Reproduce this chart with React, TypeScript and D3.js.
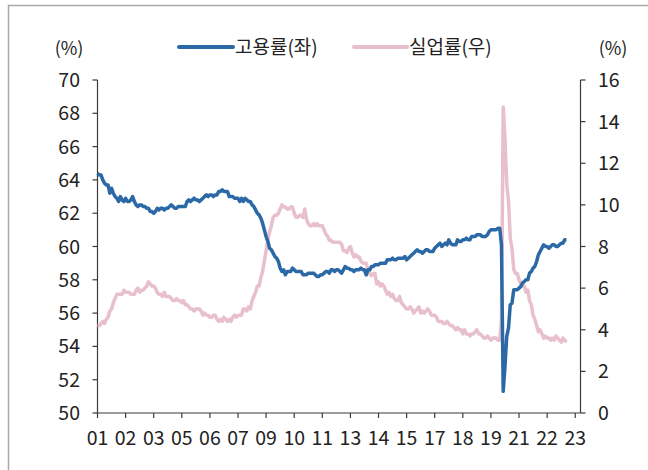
import React from "react";
import * as d3 from "d3";

const yearLabels = ["01","02","03","05","06","07","09","10","11","13","14","15","17","18","19","21","22","23"];
const leftTicks = [50,52,54,56,58,60,62,64,66,68,70];
const rightTicks = [0,2,4,6,8,10,12,14,16];
const seriesNames = ["고용률(좌)", "실업률(우)"];

// Employment rate (monthly, 2001.01 - 2023.04)
const employment = [
  64.4,64.3,64.3,64.0,63.8,63.7,63.7,63.2,63.5,63.2,63.0,62.9,
  62.7,63.0,62.8,62.7,62.9,62.7,62.7,62.8,63.0,62.7,62.5,62.4,
  62.5,62.5,62.4,62.4,62.3,62.3,62.1,62.1,62.0,62.1,62.3,62.2,
  62.3,62.3,62.2,62.3,62.3,62.4,62.5,62.4,62.3,62.3,62.4,62.4,
  62.4,62.4,62.4,62.7,62.8,62.7,62.8,62.9,62.8,62.8,62.7,62.8,
  62.9,63.0,63.1,63.0,63.1,63.1,63.0,63.1,63.1,63.3,63.3,63.4,
  63.3,63.3,63.3,63.0,63.0,63.0,62.9,62.9,62.9,62.7,62.9,62.7,
  62.9,62.8,62.7,62.7,62.5,62.4,62.2,62.0,61.9,61.7,61.4,61.0,
  60.6,60.3,59.9,59.8,59.6,59.4,59.3,59.1,58.7,58.5,58.6,58.3,
  58.5,58.5,58.5,58.7,58.6,58.5,58.5,58.5,58.5,58.3,58.3,58.3,
  58.4,58.4,58.4,58.4,58.3,58.2,58.2,58.3,58.3,58.4,58.5,58.5,
  58.4,58.6,58.6,58.5,58.6,58.6,58.5,58.4,58.6,58.8,58.7,58.7,
  58.6,58.6,58.5,58.6,58.6,58.6,58.7,58.6,58.6,58.3,58.6,58.6,
  58.8,58.8,58.9,58.9,58.9,59.0,59.0,59.0,59.0,59.2,59.2,59.2,
  59.3,59.2,59.2,59.3,59.3,59.3,59.3,59.4,59.2,59.3,59.4,59.5,
  59.6,59.7,59.8,59.7,59.7,59.6,59.7,59.8,59.8,59.7,59.7,59.7,
  59.9,60.0,60.1,60.2,60.0,60.1,60.2,60.1,60.4,60.2,60.1,60.1,
  60.1,60.4,60.3,60.3,60.4,60.4,60.5,60.4,60.4,60.6,60.6,60.6,
  60.7,60.7,60.7,60.6,60.6,60.6,60.7,60.9,61.0,61.0,61.0,61.0,
  61.1,61.1,60.1,51.3,52.8,54.6,55.1,56.5,56.6,57.4,57.4,57.4,
  57.5,57.6,57.8,57.9,58.0,58.0,58.4,58.5,58.7,58.8,59.1,59.5,
  59.7,59.9,60.1,60.0,60.0,59.9,60.0,60.1,60.1,60.0,60.0,60.1,
  60.2,60.2,60.4,60.4
];

// Unemployment rate (monthly, 2001.01 - 2023.04)
const unemployment = [
  4.2,4.2,4.3,4.4,4.3,4.5,4.6,4.9,5.0,5.3,5.5,5.7,
  5.7,5.7,5.7,5.9,5.8,5.8,5.8,5.7,5.7,5.7,5.9,6.0,
  5.8,5.9,5.9,6.0,6.1,6.3,6.2,6.1,6.1,6.0,5.8,5.7,
  5.7,5.6,5.8,5.6,5.6,5.6,5.5,5.4,5.4,5.5,5.4,5.4,
  5.3,5.4,5.2,5.2,5.1,5.0,5.0,4.9,5.0,5.0,5.0,4.9,
  4.7,4.8,4.7,4.7,4.6,4.6,4.7,4.7,4.5,4.4,4.5,4.4,
  4.6,4.5,4.4,4.5,4.4,4.6,4.7,4.6,4.7,4.7,4.7,5.0,
  5.0,4.9,5.1,5.0,5.4,5.6,5.8,6.1,6.1,6.5,6.8,7.3,
  7.8,8.3,8.7,9.0,9.4,9.5,9.5,9.6,9.8,10.0,9.9,9.9,
  9.8,9.8,9.9,9.9,9.6,9.4,9.4,9.5,9.5,9.4,9.8,9.3,
  9.1,9.0,9.0,9.1,9.0,9.1,9.0,9.0,9.0,8.8,8.6,8.5,
  8.3,8.3,8.2,8.2,8.2,8.2,8.2,8.1,7.8,7.8,7.7,7.9,
  8.0,7.7,7.5,7.6,7.5,7.5,7.3,7.2,7.2,7.2,6.9,6.7,
  6.6,6.7,6.7,6.2,6.3,6.1,6.2,6.1,5.9,5.7,5.8,5.6,
  5.7,5.5,5.4,5.4,5.6,5.3,5.2,5.1,5.0,5.0,5.1,5.0,
  4.8,4.9,5.0,5.1,4.8,4.9,4.8,4.9,5.0,4.9,4.7,4.7,
  4.7,4.6,4.4,4.4,4.4,4.3,4.3,4.4,4.3,4.2,4.2,4.1,
  4.0,4.1,4.0,4.0,3.8,4.0,3.8,3.8,3.7,3.8,3.8,3.9,
  4.0,3.8,3.8,3.7,3.6,3.6,3.7,3.6,3.5,3.6,3.6,3.6,
  3.5,3.5,4.4,14.7,13.2,11.0,10.2,8.4,7.9,6.9,6.7,6.7,
  6.4,6.2,6.1,6.1,5.8,5.9,5.4,5.2,4.7,4.5,4.2,3.9,
  4.0,3.8,3.6,3.7,3.6,3.6,3.5,3.6,3.5,3.7,3.6,3.5,
  3.4,3.6,3.5,3.4
];

const TOTAL_MONTHS = 276; // 2001.01 - 2023.12 category slots
const TICK_EVERY = 16;

const FONT = "'Noto Sans CJK KR', 'Noto Sans', sans-serif";
const BLUE = "#2b69a6";
const PINK = "#e8bfcc";
const AXIS = "#3a3a3a";

export default function App() {
  const W = 648, H = 470;
  const x0 = 97.5, x1 = 580.5, yTop = 80, yBot = 413;
  const x = d3.scaleLinear().domain([0, TOTAL_MONTHS - 1]).range([x0, x1]);
  const yL = d3.scaleLinear().domain([50, 70]).range([yBot, yTop]);
  const yR = d3.scaleLinear().domain([0, 16]).range([yBot, yTop]);

  const lineL = d3.line<number>().x((_, i) => x(i)).y((d) => yL(d));
  const lineR = d3.line<number>().x((_, i) => x(i)).y((d) => yR(d));

  const xTicks = yearLabels.map((lab, k) => ({ lab, i: k * TICK_EVERY }));

  return (
    <svg width={W} height={H} style={{ position: "absolute", left: 0, top: 0, background: "#fff" }}>
      <rect x={8.5} y={5.5} width={700} height={600} fill="none" stroke="#a8a8a8" strokeWidth={1.5} />

      {/* unit labels */}
      <text x={69} y={55} textAnchor="middle" fontFamily={FONT} fontSize={18} fill="#222">(%)</text>
      <text x={613} y={55} textAnchor="middle" fontFamily={FONT} fontSize={18} fill="#222">(%)</text>

      {/* legend */}
      <line x1={179} x2={233} y1={47} y2={47} stroke={BLUE} strokeWidth={4} strokeLinecap="round" />
      <text x={235} y={54} fontFamily={FONT} fontSize={19} fill="#222">{seriesNames[0]}</text>
      <line x1={354} x2={407} y1={47} y2={47} stroke={PINK} strokeWidth={4} strokeLinecap="round" />
      <text x={409} y={54} fontFamily={FONT} fontSize={19} fill="#222">{seriesNames[1]}</text>

      {/* left axis */}
      <line x1={x0} x2={x0} y1={yTop} y2={yBot} stroke={AXIS} strokeWidth={1.2} />
      {leftTicks.map((t) => (
        <g key={"l" + t}>
          <line x1={x0 - 5} x2={x0} y1={yL(t)} y2={yL(t)} stroke={AXIS} strokeWidth={1.2} />
          <text x={80} y={yL(t) + 7} textAnchor="end" fontFamily={FONT} fontSize={19.5} fill="#222">{t}</text>
        </g>
      ))}

      {/* right axis */}
      <line x1={x1} x2={x1} y1={yTop} y2={yBot} stroke={AXIS} strokeWidth={1.2} />
      {rightTicks.map((t) => (
        <g key={"r" + t}>
          <line x1={x1} x2={x1 + 5} y1={yR(t)} y2={yR(t)} stroke={AXIS} strokeWidth={1.2} />
          <text x={598} y={yR(t) + 7} textAnchor="start" fontFamily={FONT} fontSize={19.5} fill="#222">{t}</text>
        </g>
      ))}

      {/* bottom axis */}
      <line x1={x0} x2={x1} y1={yBot} y2={yBot} stroke={AXIS} strokeWidth={1.2} />
      {xTicks.map(({ lab, i }) => (
        <g key={"x" + lab}>
          <line x1={x(i)} x2={x(i)} y1={yBot} y2={yBot + 5} stroke={AXIS} strokeWidth={1.2} />
          <text x={x(i)} y={yBot + 32} textAnchor="middle" fontFamily={FONT} fontSize={19.5} fill="#222">{lab}</text>
        </g>
      ))}

      {/* series */}
      <path d={lineR(unemployment) || ""} fill="none" stroke={PINK} strokeWidth={3.5} strokeLinejoin="round" />
      <path d={lineL(employment) || ""} fill="none" stroke={BLUE} strokeWidth={3.5} strokeLinejoin="round" />
    </svg>
  );
}
